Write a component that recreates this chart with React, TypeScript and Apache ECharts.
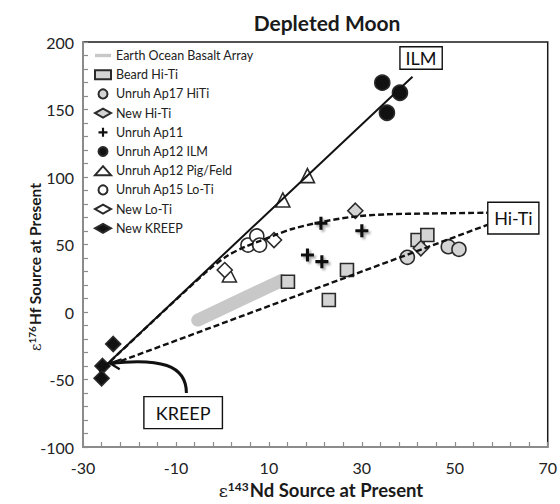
import { useEffect, useRef } from 'react';
import * as echarts from 'echarts';

// ---- axis ranges ----
const X_MIN = -30;
const X_MAX = 70;
const X_STEP = 20;
const Y_MIN = -100;
const Y_MAX = 200;
const Y_STEP = 50;

// ---- data ([εNd, εHf]) ----
const earthOceanBasaltArray = [[-5.3, -6], [12.8, 23.5]];
const beardHiTi = [[14.1, 22.4], [22.9, 8.9], [26.8, 31.1], [42.0, 53.3], [44.1, 57.0]];
const unruhAp17HiTi = [[39.8, 40.5], [48.6, 48.4], [50.9, 46.4]];
const newHiTi = [[28.6, 75.0], [42.7, 47.2]];
const unruhAp11 = [[21.2, 65.7], [30.0, 60.2], [18.3, 42.2], [21.4, 37.3]];
const unruhAp12Ilm = [[34.4, 169.9], [38.2, 162.4], [35.4, 147.6]];
const unruhAp12PigFeld = [[1.5, 27.4], [13.0, 83.0], [18.3, 101.0]];
const unruhAp15LoTi = [[5.5, 49.6], [7.4, 56.3], [8.0, 49.6]];
const newLoTi = [[0.5, 31.1], [11.1, 53.3]];
const newKreep = [[-23.5, -23.7], [-25.8, -40.0], [-26.0, -49.1]];

// model lines
const ilmTrend = [[-26.5, -44], [40.9, 174.3]];
const hiTiMixing = [[-25.5, -41], [57, 64.5]];
const loTiMixing = [
  [-25.5, -41], [-15, -7], [-8, 15.5], [-3, 31], [1, 41.5], [5, 48.5], [8, 52.5],
  [11, 56.5], [15, 61.5], [21, 66.5], [28, 70.5], [35, 72.3], [45, 73], [57, 73.5],
];

// annotation boxes (data coords: top-left, bottom-right)
const ilmBox = [[38.2, 196.5], [47.3, 179.8]];
const hiTiBox = [[57.1, 81.3], [68.1, 57.8]];
const kreepBox = [[-16.9, -62.7], [0.0, -86.4]];
// KREEP arrow (start, control1, control2, tip, wing1, wing2)
const kreepArrow = [[-7.75, -60], [-7.75, -39], [-13.5, -34], [-24.2, -38], [-21.7, -35], [-22.1, -42.4]];

const FONT = 'Lato, "Open Sans", sans-serif';
const PLUS = 'path://M3.8,0h2.4v3.8h3.8v2.4h-3.8v3.8h-2.4v-3.8h-3.8v-2.4h3.8z';
const GRAY = '#d4d4d4';
const EDGE = '#2a2a2a';

const names = [
  'Earth Ocean Basalt Array', 'Beard Hi-Ti', 'Unruh Ap17 HiTi', 'New Hi-Ti', 'Unruh Ap11',
  'Unruh Ap12 ILM', 'Unruh Ap12 Pig/Feld', 'Unruh Ap15 Lo-Ti', 'New Lo-Ti', 'New KREEP',
];

function scatter(name: string, data: number[][], symbol: string, size: number, fill: string, extra: any = {}) {
  return {
    name,
    type: 'scatter',
    data,
    symbol,
    symbolSize: size,
    z: 2,
    itemStyle: { color: fill, borderColor: EDGE, borderWidth: 1.6, opacity: 1, ...extra },
  };
}

function dashLine(data: number[][], dashed: boolean, smooth = false) {
  return {
    type: 'line',
    data,
    symbol: 'none',
    silent: true,
    smooth: smooth ? 0.3 : false,
    z: 3,
    lineStyle: { color: '#111', width: dashed ? 2.4 : 2, type: dashed ? [6, 3] : 'solid' },
  };
}

function axisTitle(x: number, y: number, rot: number, iso: string, rest: string, size: number) {
  return {
    type: 'text', x, y, z: 10, rotation: rot,
    style: {
      text: `{e|ε}{s|${iso}}{b|${rest}}`,
      align: 'center', verticalAlign: 'middle',
      rich: {
        e: { fontFamily: '"DejaVu Serif", serif', fontSize: size - 1, fill: '#1a1a1a', lineHeight: size + 1, verticalAlign: 'bottom' },
        s: { fontFamily: FONT, fontWeight: 'bold', fontSize: Math.round(size * 0.65), fill: '#1a1a1a', lineHeight: size + 1, verticalAlign: 'top', padding: [0, 1, 0, 0] },
        b: { fontFamily: FONT, fontWeight: 'bold', fontSize: size, fill: '#1a1a1a', lineHeight: size + 1, verticalAlign: 'bottom' },
      },
    },
  };
}

export default function App() {
  const ref = useRef<HTMLDivElement>(null);

  useEffect(() => {
    const chart = echarts.init(ref.current!, undefined, { renderer: 'svg' });
    const axisCommon = {
      axisLine: { show: true, onZero: false, lineStyle: { color: '#8c8c8c', width: 2 } },
      axisTick: { show: true, inside: true, length: 5, lineStyle: { color: '#8c8c8c', width: 1.2 } },
      minorTick: { show: true, splitNumber: 5, length: 5, lineStyle: { color: '#8c8c8c', width: 1.2 } },
      splitLine: { show: false },
      axisLabel: { color: '#222', fontFamily: FONT, fontSize: 16 },
    };
    chart.setOption({
      animation: false,
      backgroundColor: '#fff',
      grid: {
        left: 83, right: 11, top: 42, bottom: 57,
        show: true, borderColor: '#1a1a1a', borderWidth: 1.5, backgroundColor: 'transparent',
      },
      xAxis: {
        type: 'value', min: X_MIN, max: X_MAX, interval: X_STEP,
        ...axisCommon,
        axisLabel: { ...axisCommon.axisLabel, margin: 12 },
      },
      yAxis: {
        type: 'value', min: Y_MIN, max: Y_MAX, interval: Y_STEP,
        ...axisCommon,
        axisLabel: { ...axisCommon.axisLabel, margin: 9 },
      },
      legend: {
        orient: 'vertical', left: 94, top: 49, padding: 0,
        itemWidth: 16, itemHeight: 9, itemGap: 6.2,
        selectedMode: false,
        textStyle: { fontFamily: FONT, fontSize: 12.5, color: '#222', lineHeight: 12.5 },
        data: [
          { name: names[0], icon: 'path://M0,0H20V4.2H0Z', itemStyle: { color: '#c8c8c8', borderWidth: 0 } },
          ...names.slice(1).map((n) => ({ name: n })),
        ],
      },
      series: [
        {
          name: names[0], type: 'line', data: earthOceanBasaltArray, symbol: 'none', z: 1, silent: true,
          itemStyle: { color: '#c8c8c8' },
          lineStyle: { color: '#c8c8c8', width: 13, cap: 'round' },
        },
        scatter(names[1], beardHiTi, 'rect', 13, GRAY),
        scatter(names[2], unruhAp17HiTi, 'circle', 14, GRAY),
        scatter(names[3], newHiTi, 'diamond', 15, GRAY),
        scatter(names[4], unruhAp11, PLUS, 13, '#111', {
          borderWidth: 0, shadowColor: 'rgba(0,0,0,0.35)', shadowBlur: 2, shadowOffsetX: 2, shadowOffsetY: 2,
        }),
        scatter(names[5], unruhAp12Ilm, 'circle', 15, '#111'),
        scatter(names[6], unruhAp12PigFeld, 'triangle', 14, '#fff'),
        scatter(names[7], unruhAp15LoTi, 'circle', 14, '#fff'),
        scatter(names[8], newLoTi, 'diamond', 15, '#fff'),
        scatter(names[9], newKreep, 'diamond', 15, '#111'),
        dashLine(ilmTrend, false),
        dashLine(hiTiMixing, true),
        dashLine(loTiMixing, true, true),
      ],
    });

    const px = (p: number[]) => chart.convertToPixel({ gridIndex: 0 }, p) as number[];
    const box = (b: number[][], label: string) => {
      const a = px(b[0]);
      const c = px(b[1]);
      return {
        type: 'group',
        z: 10,
        children: [
          {
            type: 'rect',
            shape: { x: a[0], y: a[1], width: c[0] - a[0], height: c[1] - a[1] },
            style: { fill: '#fff', stroke: '#111', lineWidth: 1.4 },
          },
          {
            type: 'text',
            x: (a[0] + c[0]) / 2,
            y: (a[1] + c[1]) / 2,
            style: {
              text: label, fontFamily: FONT, fontSize: 18, fill: '#111',
              align: 'center', verticalAlign: 'middle',
            },
          },
        ],
      };
    };
    const [s, c1, c2, tip, w1, w2] = kreepArrow.map(px);

    chart.setOption({
      graphic: [
        {
          type: 'text', x: 327, y: 22, z: 10,
          style: {
            text: 'Depleted Moon', fontFamily: FONT, fontWeight: 'bold', fontSize: 21, fill: '#1a1a1a',
            align: 'center', verticalAlign: 'middle',
          },
        },
        axisTitle(321, 490, 0, '143', 'Nd Source at Present', 18.5),
        axisTitle(35, 267, Math.PI / 2, '176', 'Hf Source at Present', 15.5),
        box(ilmBox, 'ILM'),
        box(hiTiBox, 'Hi-Ti'),
        box(kreepBox, 'KREEP'),
        {
          type: 'bezierCurve', z: 9,
          shape: { x1: s[0], y1: s[1], cpx1: c1[0], cpy1: c1[1], cpx2: c2[0], cpy2: c2[1], x2: tip[0], y2: tip[1] },
          style: { stroke: '#111', lineWidth: 3, fill: 'none' },
        },
        {
          type: 'polyline', z: 9,
          shape: { points: [w1, tip, w2] },
          style: { stroke: '#111', lineWidth: 2.2, fill: 'none' },
        },
      ],
    });

    return () => chart.dispose();
  }, []);

  return (
    <div
      ref={ref}
      style={{ position: 'fixed', left: 0, top: 0, width: 560, height: 504, background: '#fff' }}
    />
  );
}
